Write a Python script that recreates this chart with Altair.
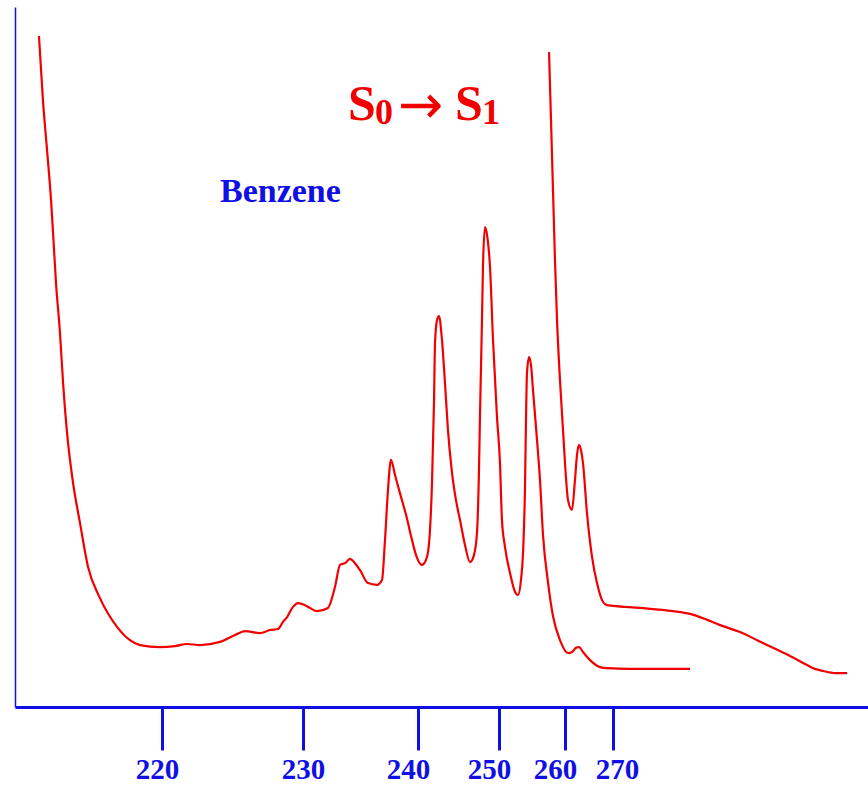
import altair as alt
import pandas as pd

# Benzene UV absorption, S0 -> S1 band (wavelength in nm, absorbance in arbitrary units)
wl_dilute = [211.63, 211.90, 212.18, 212.45, 212.59, 212.79, 213.06, 213.27, 213.54, 213.95,
             214.42, 214.97, 215.78, 216.94, 217.82, 218.50, 219.86, 220.92, 221.77, 222.70,
             224.11, 225.18, 225.89, 226.95, 227.66, 228.23, 228.58, 228.87, 229.29, 229.65,
             230.17, 230.61, 231.22, 232.17, 232.78, 233.22, 233.65, 234.09, 234.52, 234.96,
             235.65, 236.43, 236.87, 237.13, 237.39, 237.65, 238.00, 238.43, 238.96, 239.48,
             239.83, 240.49, 241.11, 241.48, 241.73, 241.98, 242.10, 242.35, 242.59, 242.96,
             243.33, 243.70, 244.20, 244.69, 245.19, 245.80, 246.42, 246.91, 247.28, 247.53,
             247.65, 247.90, 248.02, 248.27, 248.52, 248.89, 249.26, 249.75, 250.15, 250.45,
             250.91, 251.67, 252.42, 252.88, 253.33, 253.64, 253.94, 254.09, 254.24, 254.55,
             254.85, 255.15, 255.76, 256.21, 256.67, 257.42, 258.18, 259.24, 260.63, 261.46,
             262.29, 262.92, 263.75, 265.21, 267.29, 268.75, 270.67, 271.84, 273.02]
abs_dilute = [1.917, 1.734, 1.591, 1.449, 1.354, 1.211, 1.069, 0.926, 0.783, 0.640,
              0.526, 0.400, 0.311, 0.229, 0.191, 0.177, 0.171, 0.174, 0.180, 0.177,
              0.186, 0.206, 0.217, 0.211, 0.220, 0.223, 0.243, 0.257, 0.286, 0.297,
              0.291, 0.283, 0.274, 0.283, 0.343, 0.406, 0.411, 0.423, 0.411, 0.391,
              0.354, 0.349, 0.363, 0.477, 0.620, 0.706, 0.663, 0.611, 0.549, 0.477,
              0.434, 0.406, 0.429, 0.506, 0.640, 0.877, 1.040, 1.106, 1.117, 1.049,
              0.926, 0.791, 0.669, 0.591, 0.534, 0.463, 0.414, 0.434, 0.497, 0.677,
              0.829, 1.106, 1.257, 1.371, 1.349, 1.257, 1.049, 0.829, 0.697, 0.534,
              0.457, 0.383, 0.329, 0.320, 0.363, 0.440, 0.629, 0.820, 0.954, 1.000,
              0.977, 0.906, 0.763, 0.649, 0.491, 0.357, 0.260, 0.191, 0.154, 0.157,
              0.169, 0.171, 0.157, 0.134, 0.114, 0.111, 0.109, 0.109, 0.109]

wl_conc = [257.58, 257.88, 258.18, 258.48, 258.79, 259.24, 259.70, 260.00, 260.63, 261.46,
           262.08, 262.50, 262.92, 263.33, 263.75, 264.58, 265.63, 266.67, 267.92, 268.75,
           270.00, 271.06, 272.35, 273.02, 273.69, 274.20, 274.98, 275.65, 276.27, 276.94,
           277.61, 277.92, 278.24, 278.71, 279.18]
abs_conc = [1.871, 1.677, 1.477, 1.277, 1.106, 0.934, 0.791, 0.697, 0.591, 0.563,
            0.649, 0.720, 0.749, 0.734, 0.697, 0.554, 0.429, 0.354, 0.300, 0.291,
            0.289, 0.283, 0.274, 0.266, 0.249, 0.234, 0.214, 0.191, 0.169, 0.146,
            0.120, 0.109, 0.103, 0.097, 0.097]

tick_values = [220, 230, 240, 250, 260, 270]
# piecewise wavelength axis: breakpoints and their pixel positions
x_breaks = [210, 220, 230, 240, 250, 260, 270, 280]
x_pixels = [0, 147, 288, 403, 484, 550, 598, 853]

RED = "#f20000"
BLUE = "#1010e6"
SERIF = "Liberation Serif"

df = pd.concat([
    pd.DataFrame({"wavelength": wl_dilute, "absorbance": abs_dilute, "trace": "dilute"}),
    pd.DataFrame({"wavelength": wl_conc, "absorbance": abs_conc, "trace": "concentrated"}),
], ignore_index=True)

spectrum = alt.Chart(df).mark_line(color=RED, strokeWidth=2.2, interpolate="monotone").encode(
    x=alt.X("wavelength:Q",
            scale=alt.Scale(domain=x_breaks, range=x_pixels, nice=False, zero=False),
            axis=alt.Axis(values=tick_values, title=None, grid=False,
                          domainColor=BLUE, domainWidth=3,
                          tickColor=BLUE, tickWidth=3, tickSize=43,
                          labelFont=SERIF, labelFontWeight="bold", labelFontSize=29,
                          labelColor=BLUE, labelPadding=5,
                          labelOffset={"expr": "datum.value == 220 ? -5 : datum.value == 230 ? 0 : datum.value == 270 ? 4 : -10"})),
    y=alt.Y("absorbance:Q",
            scale=alt.Scale(domain=[0, 2], nice=False, zero=True),
            axis=alt.Axis(title=None, labels=False, ticks=False, grid=False,
                          domainColor=BLUE, domainWidth=1.5)),
    detail="trace:N",
)


def label(text, x, y, size, color, font=SERIF, weight="bold", baseline="alphabetic"):
    return alt.Chart(pd.DataFrame({"t": [text]})).mark_text(
        font=font, fontWeight=weight, fontSize=size, color=color,
        align="left", baseline=baseline,
    ).encode(text="t:N", x=alt.value(x), y=alt.value(y))


annotations = [
    label("Benzene", 205, 195, 34, BLUE),
    label("S", 333, 113, 50, RED),
    label("0", 360, 117, 36, RED),
    label("\u2192", 383, 100, 54, RED, font="DejaVu Sans", weight="normal", baseline="middle"),
    label("S", 440, 113, 50, RED),
    label("1", 467, 117, 36, RED),
]

chart = alt.layer(spectrum, *annotations).properties(
    width=853, height=700,
    padding={"left": 15, "top": 7, "right": 0, "bottom": 80},
    autosize="none",
    background="white",
).configure_view(stroke=None)

chart.save("out.html", embed_options={"renderer": "svg", "actions": False})
